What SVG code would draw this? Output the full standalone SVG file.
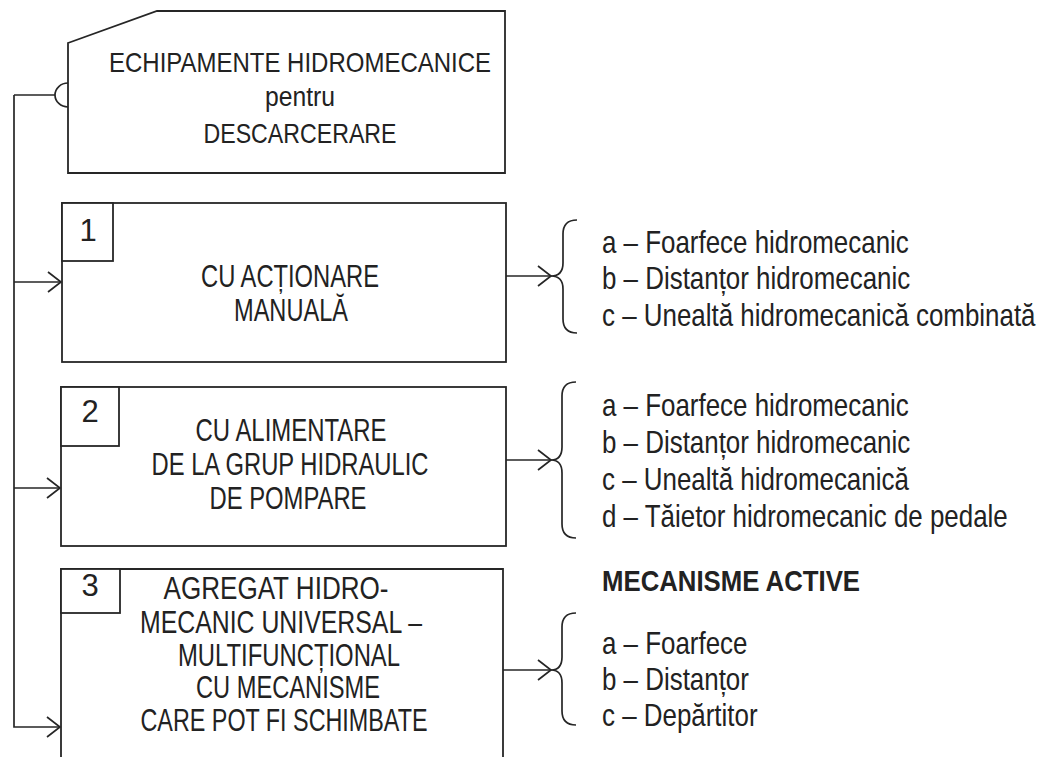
<svg xmlns="http://www.w3.org/2000/svg" width="1044" height="757" viewBox="0 0 1044 757">
<defs>
<style>
.ln{fill:none;stroke:#262626;stroke-width:1.7}
.bx{fill:#fff;stroke:#262626;stroke-width:1.8}
.t{font-family:"Liberation Sans",Arial,sans-serif;fill:#222}
.hd{font-size:27.5px;text-anchor:middle}
.bt{font-size:31px;text-anchor:middle}
.num{font-size:31px;text-anchor:middle}
.it{font-size:32px}
.bold{font-size:30px;font-weight:bold}
</style>
<marker id="ah" markerUnits="userSpaceOnUse" markerWidth="16" markerHeight="24" refX="14" refY="11" orient="auto">
<path d="M1,1 L14,11 L1,21" fill="none" stroke="#262626" stroke-width="1.7"/>
</marker>
</defs>
<rect width="1044" height="757" fill="#fff"/>

<g id="header">
<path class="bx" d="M68,43 L157,11 L505,11 L505,173 L68,173 Z"/>
<text class="t hd" x="300" y="72" textLength="382" lengthAdjust="spacingAndGlyphs">ECHIPAMENTE HIDROMECANICE</text>
<text class="t hd" x="300" y="106" textLength="70" lengthAdjust="spacingAndGlyphs">pentru</text>
<text class="t hd" x="300" y="143" textLength="193" lengthAdjust="spacingAndGlyphs">DESCARCERARE</text>
</g>

<g id="node1">
<rect class="bx" x="62" y="203" width="444" height="159"/>
<rect class="bx" x="62" y="203" width="51" height="58"/>
<text class="t num" x="88" y="241">1</text>
<text class="t bt" x="290" y="287" textLength="178" lengthAdjust="spacingAndGlyphs">CU ACȚIONARE</text>
<text class="t bt" x="291" y="321" textLength="114" lengthAdjust="spacingAndGlyphs">MANUALĂ</text>
</g>

<g id="node2">
<rect class="bx" x="61" y="387" width="445" height="159"/>
<rect class="bx" x="61" y="387" width="58" height="59"/>
<text class="t num" x="90" y="422">2</text>
<text class="t bt" x="291" y="441" textLength="191" lengthAdjust="spacingAndGlyphs">CU ALIMENTARE</text>
<text class="t bt" x="290" y="475" textLength="277" lengthAdjust="spacingAndGlyphs">DE LA GRUP HIDRAULIC</text>
<text class="t bt" x="288" y="509" textLength="157" lengthAdjust="spacingAndGlyphs">DE POMPARE</text>
</g>

<g id="node3">
<path class="bx" d="M61,770 L61,569 L503,569 L503,770"/>
<rect class="bx" x="61" y="569" width="59" height="44"/>
<text class="t num" x="90" y="596">3</text>
<text class="t bt" x="276" y="599" textLength="225" lengthAdjust="spacingAndGlyphs">AGREGAT HIDRO-</text>
<text class="t bt" x="281" y="633" textLength="282" lengthAdjust="spacingAndGlyphs">MECANIC UNIVERSAL –</text>
<text class="t bt" x="289" y="666" textLength="222" lengthAdjust="spacingAndGlyphs">MULTIFUNCȚIONAL</text>
<text class="t bt" x="288" y="698" textLength="184" lengthAdjust="spacingAndGlyphs">CU MECANISME</text>
<text class="t bt" x="284" y="731" textLength="287" lengthAdjust="spacingAndGlyphs">CARE POT FI SCHIMBATE</text>
</g>

<g id="list1" transform="translate(602 0) scale(0.81 1)">
<text class="t it" x="0" y="253">a – Foarfece hidromecanic</text>
<text class="t it" x="0" y="289">b – Distanțor hidromecanic</text>
<text class="t it" x="0" y="326">c – Unealtă hidromecanică combinată</text>
</g>

<g id="list2" transform="translate(602 0) scale(0.81 1)">
<text class="t it" x="0" y="416">a – Foarfece hidromecanic</text>
<text class="t it" x="0" y="453">b – Distanțor hidromecanic</text>
<text class="t it" x="0" y="490">c – Unealtă hidromecanică</text>
<text class="t it" x="0" y="527">d – Tăietor hidromecanic de pedale</text>
</g>

<g id="list3">
<text class="t bold" x="602" y="591" textLength="258" lengthAdjust="spacingAndGlyphs">MECANISME ACTIVE</text>
<g transform="translate(602 0) scale(0.81 1)">
<text class="t it" x="0" y="654">a – Foarfece</text>
<text class="t it" x="0" y="690">b – Distanțor</text>
<text class="t it" x="0" y="726">c – Depărtitor</text>
</g>
</g>

<g id="connectors">
<path class="ln" d="M68,83 A13,12 0 0 0 68,107"/>
<path class="ln" d="M14,95 L55,95"/>
<path class="ln" d="M14,95 L14,727 L60,727" marker-end="url(#ah)"/>
<path class="ln" d="M14,282 L61,282" marker-end="url(#ah)"/>
<path class="ln" d="M14,488 L60,488" marker-end="url(#ah)"/>
<path class="ln" d="M506,276 L551,276" marker-end="url(#ah)"/>
<path class="ln" d="M506,460 L551,460" marker-end="url(#ah)"/>
<path class="ln" d="M503,670 L551,670" marker-end="url(#ah)"/>
<path class="ln" d="M577,220 Q563,220 563,234 L563,263 Q563,276 551,276 Q563,276 563,289 L563,319 Q563,333 577,333"/>
<path class="ln" d="M576,382 Q562,382 562,396 L562,447 Q562,460 551,460 Q562,460 562,473 L562,524 Q562,538 576,538"/>
<path class="ln" d="M576,613 Q562,613 562,627 L562,657 Q562,670 551,670 Q562,670 562,683 L562,711 Q562,725 576,725"/>
</g>
</svg>
